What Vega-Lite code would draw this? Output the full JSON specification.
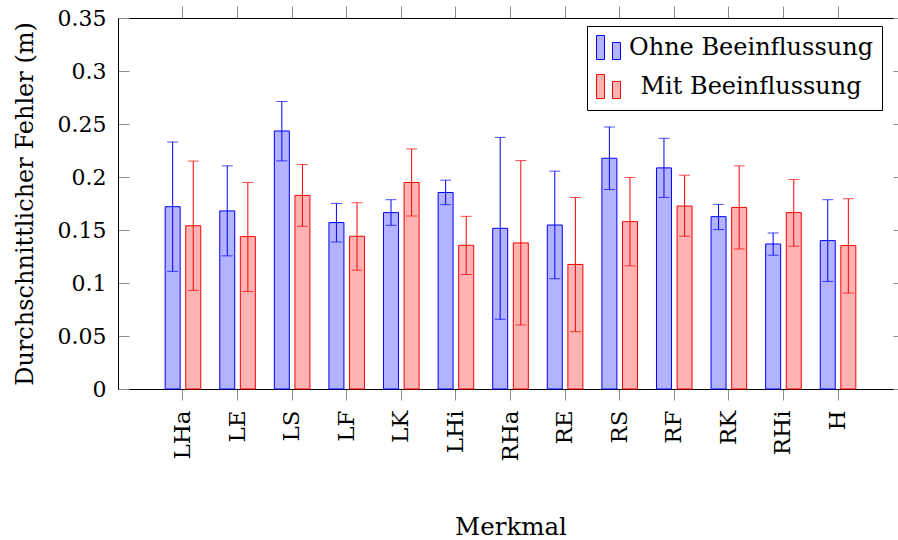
{
  "$schema": "https://vega.github.io/schema/vega-lite/v6.json",
  "width": 780,
  "height": 371,
  "autosize": {"type": "none"},
  "padding": {"left": 118, "top": 18, "right": 0, "bottom": 151},
  "background": "white",
  "config": {
    "view": {"stroke": null},
    "font": "DejaVu Serif",
    "axis": {"labelFont": "DejaVu Serif", "titleFont": "DejaVu Serif", "labelColor": "black", "titleColor": "black", "titleFontWeight": "normal", "grid": false, "domainColor": "black", "domainWidth": 1, "tickColor": "#8c8c8c", "tickWidth": 1},
    "legend": {"labelFont": "DejaVu Serif"}
  },
  "data": {"values": [
    {"Merkmal": "LHa", "Gruppe": "Ohne Beeinflussung", "Fehler": 0.172, "Min": 0.111, "Max": 0.233},
    {"Merkmal": "LHa", "Gruppe": "Mit Beeinflussung", "Fehler": 0.154, "Min": 0.093, "Max": 0.215},
    {"Merkmal": "LE", "Gruppe": "Ohne Beeinflussung", "Fehler": 0.168, "Min": 0.1256, "Max": 0.2105},
    {"Merkmal": "LE", "Gruppe": "Mit Beeinflussung", "Fehler": 0.1438, "Min": 0.092, "Max": 0.1948},
    {"Merkmal": "LS", "Gruppe": "Ohne Beeinflussung", "Fehler": 0.2434, "Min": 0.2152, "Max": 0.2712},
    {"Merkmal": "LS", "Gruppe": "Mit Beeinflussung", "Fehler": 0.1826, "Min": 0.1535, "Max": 0.2117},
    {"Merkmal": "LF", "Gruppe": "Ohne Beeinflussung", "Fehler": 0.157, "Min": 0.1387, "Max": 0.1751},
    {"Merkmal": "LF", "Gruppe": "Mit Beeinflussung", "Fehler": 0.1441, "Min": 0.1121, "Max": 0.1757},
    {"Merkmal": "LK", "Gruppe": "Ohne Beeinflussung", "Fehler": 0.1664, "Min": 0.1544, "Max": 0.1786},
    {"Merkmal": "LK", "Gruppe": "Mit Beeinflussung", "Fehler": 0.1948, "Min": 0.1632, "Max": 0.2265},
    {"Merkmal": "LHi", "Gruppe": "Ohne Beeinflussung", "Fehler": 0.1854, "Min": 0.1739, "Max": 0.197},
    {"Merkmal": "LHi", "Gruppe": "Mit Beeinflussung", "Fehler": 0.1356, "Min": 0.108, "Max": 0.1629},
    {"Merkmal": "RHa", "Gruppe": "Ohne Beeinflussung", "Fehler": 0.1516, "Min": 0.0658, "Max": 0.2374},
    {"Merkmal": "RHa", "Gruppe": "Mit Beeinflussung", "Fehler": 0.1378, "Min": 0.0604, "Max": 0.2155},
    {"Merkmal": "RE", "Gruppe": "Ohne Beeinflussung", "Fehler": 0.1547, "Min": 0.104, "Max": 0.2055},
    {"Merkmal": "RE", "Gruppe": "Mit Beeinflussung", "Fehler": 0.1175, "Min": 0.0541, "Max": 0.1807},
    {"Merkmal": "RS", "Gruppe": "Ohne Beeinflussung", "Fehler": 0.2177, "Min": 0.1882, "Max": 0.2472},
    {"Merkmal": "RS", "Gruppe": "Mit Beeinflussung", "Fehler": 0.1579, "Min": 0.1162, "Max": 0.1995},
    {"Merkmal": "RF", "Gruppe": "Ohne Beeinflussung", "Fehler": 0.2086, "Min": 0.1807, "Max": 0.2365},
    {"Merkmal": "RF", "Gruppe": "Mit Beeinflussung", "Fehler": 0.1726, "Min": 0.1441, "Max": 0.2017},
    {"Merkmal": "RK", "Gruppe": "Ohne Beeinflussung", "Fehler": 0.1626, "Min": 0.1504, "Max": 0.1742},
    {"Merkmal": "RK", "Gruppe": "Mit Beeinflussung", "Fehler": 0.1713, "Min": 0.1321, "Max": 0.2105},
    {"Merkmal": "RHi", "Gruppe": "Ohne Beeinflussung", "Fehler": 0.1368, "Min": 0.1262, "Max": 0.1472},
    {"Merkmal": "RHi", "Gruppe": "Mit Beeinflussung", "Fehler": 0.1664, "Min": 0.1347, "Max": 0.1976},
    {"Merkmal": "H", "Gruppe": "Ohne Beeinflussung", "Fehler": 0.14, "Min": 0.1015, "Max": 0.1786},
    {"Merkmal": "H", "Gruppe": "Mit Beeinflussung", "Fehler": 0.1353, "Min": 0.0905, "Max": 0.1795}
  ]},
  "encoding": {
    "x": {"field": "Merkmal", "type": "nominal",
      "sort": ["LHa", "LE", "LS", "LF", "LK", "LHi", "RHa", "RE", "RS", "RF", "RK", "RHi", "H"],
      "scale": {"type": "band", "paddingInner": 0, "paddingOuter": 0.69, "range": [0, 785]}},
    "xOffset": {"field": "Gruppe", "type": "nominal", "sort": ["Ohne Beeinflussung", "Mit Beeinflussung"],
      "scale": {"paddingInner": 0.272, "paddingOuter": 0.461}}
  },
  "layer": [
    {
      "mark": {"type": "bar", "strokeWidth": 1, "opacity": 1},
      "encoding": {
        "x": {"field": "Merkmal", "type": "nominal",
          "sort": ["LHa", "LE", "LS", "LF", "LK", "LHi", "RHa", "RE", "RS", "RF", "RK", "RHi", "H"],
          "axis": {"orient": "bottom", "title": "Merkmal", "labelAngle": -90, "labelAlign": "right", "labelBaseline": "middle", "labelFontSize": 23, "titleFontSize": 24.5, "tickSize": 11, "labelPadding": 10, "titlePadding": 54}},
        "y": {"field": "Fehler", "type": "quantitative",
          "scale": {"domain": [0, 0.35], "nice": false, "zero": true},
          "axis": {"orient": "left", "title": "Durchschnittlicher Fehler (m)", "values": [0, 0.05, 0.1, 0.15, 0.2, 0.25, 0.3, 0.35], "format": "~g", "labelFontSize": 22, "titleFontSize": 24, "tickSize": -11, "labelPadding": 23, "titlePadding": 20}},
        "fill": {"field": "Gruppe", "type": "nominal", "sort": ["Ohne Beeinflussung", "Mit Beeinflussung"],
          "scale": {"domain": ["Ohne Beeinflussung", "Mit Beeinflussung"], "range": ["#b3b3ff", "#ffb3b3"]},
          "legend": {"title": null, "orient": "none", "legendX": 469, "legendY": 8, "direction": "vertical",
            "fillColor": "white", "strokeColor": "black", "padding": 9,
            "symbolType": "M-1,-1H-0.333V1H-1Z M0.333,-0.42H1V1H0.333Z", "symbolSize": 576, "symbolStrokeWidth": 1, "symbolOpacity": 1,
            "labelFontSize": 24, "labelColor": "black", "labelAlign": "center", "labelOffset": 130, "rowPadding": 10, "labelLimit": 400}},
        "stroke": {"field": "Gruppe", "type": "nominal", "sort": ["Ohne Beeinflussung", "Mit Beeinflussung"],
          "scale": {"domain": ["Ohne Beeinflussung", "Mit Beeinflussung"], "range": ["#0000ff", "#ff0000"]},
          "legend": {"title": null, "orient": "none", "legendX": 469, "legendY": 8, "direction": "vertical",
            "fillColor": "white", "strokeColor": "black", "padding": 9,
            "symbolType": "M-1,-1H-0.333V1H-1Z M0.333,-0.42H1V1H0.333Z", "symbolSize": 576, "symbolStrokeWidth": 1, "symbolOpacity": 1,
            "labelFontSize": 24, "labelColor": "black", "labelAlign": "center", "labelOffset": 130, "rowPadding": 10, "labelLimit": 400}}
      }
    },
    {
      "mark": {"type": "rule", "strokeWidth": 1},
      "encoding": {
        "x": {"field": "Merkmal", "type": "nominal",
          "sort": ["LHa", "LE", "LS", "LF", "LK", "LHi", "RHa", "RE", "RS", "RF", "RK", "RHi", "H"],
          "axis": {"orient": "top", "title": null, "labels": false, "tickSize": 12, "domain": true}},
        "y": {"field": "Min", "type": "quantitative",
          "axis": {"orient": "right", "title": null, "labels": false, "values": [0, 0.05, 0.1, 0.15, 0.2, 0.25, 0.3, 0.35], "tickSize": -10, "offset": 5, "domain": false}},
        "y2": {"field": "Max"},
        "stroke": {"field": "Gruppe", "type": "nominal", "legend": null}
      }
    },
    {
      "mark": {"type": "tick", "size": 11, "thickness": 1},
      "encoding": {
        "x": {"field": "Merkmal", "type": "nominal",
          "sort": ["LHa", "LE", "LS", "LF", "LK", "LHi", "RHa", "RE", "RS", "RF", "RK", "RHi", "H"], "axis": null},
        "y": {"field": "Min", "type": "quantitative", "axis": null},
        "color": {"field": "Gruppe", "type": "nominal", "legend": null, "scale": {"domain": ["Ohne Beeinflussung", "Mit Beeinflussung"], "range": ["#0000ff", "#ff0000"]}}
      }
    },
    {
      "mark": {"type": "tick", "size": 11, "thickness": 1},
      "encoding": {
        "x": {"field": "Merkmal", "type": "nominal",
          "sort": ["LHa", "LE", "LS", "LF", "LK", "LHi", "RHa", "RE", "RS", "RF", "RK", "RHi", "H"], "axis": null},
        "y": {"field": "Max", "type": "quantitative", "axis": null},
        "color": {"field": "Gruppe", "type": "nominal", "legend": null, "scale": {"domain": ["Ohne Beeinflussung", "Mit Beeinflussung"], "range": ["#0000ff", "#ff0000"]}}
      }
    }
  ],
  "resolve": {"axis": {"x": "independent", "y": "independent"}}
}
